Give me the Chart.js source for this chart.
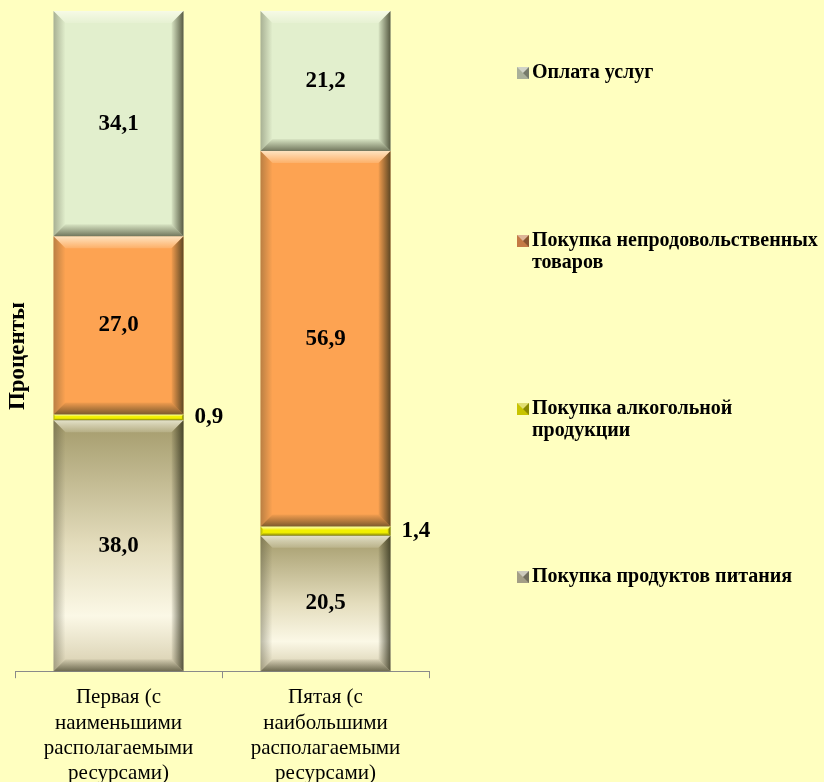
<!DOCTYPE html>
<html lang="ru">
<head>
<meta charset="utf-8">
<script src="https://cdn.jsdelivr.net/npm/chart.js@4"></script>
<style>
  html, body { margin: 0; padding: 0; background: #FFFFC0; overflow: hidden; }
  canvas { display: block; }
</style>
</head>
<body>
<canvas id="shareChart" width="824" height="793"></canvas>
<script>
// categories (x tick labels, one line per entry)
const groups = [
  ['Первая (с', 'наименьшими', 'располагаемыми', 'ресурсами)'],
  ['Пятая (с', 'наибольшими', 'располагаемыми', 'ресурсами)']
];
const seriesNames = [
  'Покупка продуктов питания',
  'Покупка алкогольной продукции',
  'Покупка непродовольственных товаров',
  'Оплата услуг'
];
const foodShare = [38.0, 20.5];
const alcoholShare = [0.9, 1.4];
const nonFoodShare = [27.0, 56.9];
const servicesShare = [34.1, 21.2];
const axisTitle = 'Проценты';

const SERIF = "'Liberation Serif', 'Times New Roman', serif";
const markerColors = ['#A39E86', '#C8C400', '#C47A44', '#A9B09A'];

/** gradient for the food segments, built from the y scale */
function foodFill(context) {
  const chart = context.chart;
  const y = chart.scales.y;
  if (!chart.chartArea || !y) return '#E8E0C0';
  const v = context.dataset.data[context.dataIndex];
  const top = y.getPixelForValue(v), bottom = y.getPixelForValue(0);
  const g = chart.ctx.createLinearGradient(0, top, 0, bottom);
  g.addColorStop(0, '#A39A6A');
  g.addColorStop(0.5, '#E4DDBD');
  g.addColorStop(0.78, '#FBF8E6');
  g.addColorStop(1, '#D6CDAD');
  return g;
}

/** draws the bevelled edges over each bar */
const bevelPlugin = {
  id: 'bevel',
  afterDatasetsDraw(chart) {
    const ctx = chart.ctx;
    chart.data.datasets.forEach((ds, di) => {
      chart.getDatasetMeta(di).data.forEach(bar => {
        const p = bar.getProps(['x', 'y', 'base', 'width'], true);
        const l = p.x - p.width / 2, r = p.x + p.width / 2;
        const t = Math.min(p.y, p.base), b = Math.max(p.y, p.base);
        const d = Math.min(12, (b - t) / 3);
        ctx.save();
        let g = ctx.createLinearGradient(0, t, 0, t + d);
        g.addColorStop(0, 'rgba(255,255,240,0.7)');
        g.addColorStop(1, 'rgba(255,255,240,0.15)');
        ctx.fillStyle = g;
        ctx.beginPath();
        ctx.moveTo(l, t); ctx.lineTo(r, t); ctx.lineTo(r - d, t + d); ctx.lineTo(l + d, t + d);
        ctx.closePath(); ctx.fill();
        g = ctx.createLinearGradient(l, 0, l + d, 0);
        g.addColorStop(0, 'rgba(60,60,40,0.35)');
        g.addColorStop(1, 'rgba(60,60,40,0.0)');
        ctx.fillStyle = g;
        ctx.beginPath();
        ctx.moveTo(l, t); ctx.lineTo(l + d, t + d); ctx.lineTo(l + d, b - d); ctx.lineTo(l, b);
        ctx.closePath(); ctx.fill();
        g = ctx.createLinearGradient(r, 0, r - d, 0);
        g.addColorStop(0, 'rgba(40,40,20,0.75)');
        g.addColorStop(1, 'rgba(40,40,20,0.05)');
        ctx.fillStyle = g;
        ctx.beginPath();
        ctx.moveTo(r, t); ctx.lineTo(r, b); ctx.lineTo(r - d, b - d); ctx.lineTo(r - d, t + d);
        ctx.closePath(); ctx.fill();
        g = ctx.createLinearGradient(0, b, 0, b - d);
        g.addColorStop(0, 'rgba(40,40,20,0.6)');
        g.addColorStop(1, 'rgba(40,40,20,0.05)');
        ctx.fillStyle = g;
        ctx.beginPath();
        ctx.moveTo(l, b); ctx.lineTo(r, b); ctx.lineTo(r - d, b - d); ctx.lineTo(l + d, b - d);
        ctx.closePath(); ctx.fill();
        ctx.restore();
      });
    });
  }
};

/** value labels: inside big segments, to the right of thin ones */
const valueLabels = {
  id: 'valueLabels',
  afterDatasetsDraw(chart) {
    const ctx = chart.ctx;
    ctx.save();
    ctx.font = 'bold 23px ' + SERIF;
    ctx.fillStyle = '#000';
    ctx.textBaseline = 'middle';
    chart.data.datasets.forEach((ds, di) => {
      chart.getDatasetMeta(di).data.forEach((bar, i) => {
        const v = ds.data[i];
        const p = bar.getProps(['x', 'y', 'base', 'width'], true);
        const txt = v.toFixed(1).replace('.', ',');
        const cy = (p.y + p.base) / 2;
        if (v < 5) {
          ctx.textAlign = 'left';
          ctx.fillText(txt, p.x + p.width / 2 + 11, cy);
        } else {
          ctx.textAlign = 'center';
          ctx.fillText(txt, p.x, cy);
        }
      });
    });
    ctx.restore();
  }
};

/** y title and the right-hand legend */
const sideText = {
  id: 'sideText',
  afterDraw(chart) {
    const ctx = chart.ctx;
    ctx.save();
    ctx.fillStyle = '#000';
    ctx.font = 'bold 23px ' + SERIF;
    ctx.textAlign = 'center';
    ctx.textBaseline = 'middle';
    ctx.translate(18, 356);
    ctx.rotate(-Math.PI / 2);
    ctx.fillText(axisTitle, 0, 0);
    ctx.restore();

    ctx.save();
    ctx.font = 'bold 20px ' + SERIF;
    ctx.textBaseline = 'middle';
    ctx.textAlign = 'left';
    const textX = 532, maxW = chart.width - textX - 1;
    const n = chart.data.datasets.length;
    for (let k = 0; k < n; k++) {
      const di = n - 1 - k;
      const words = chart.data.datasets[di].label.split(' ');
      const lines = [];
      let cur = '';
      words.forEach(w => {
        const test = cur ? cur + ' ' + w : w;
        if (ctx.measureText(test).width > maxW && cur) { lines.push(cur); cur = w; }
        else cur = test;
      });
      lines.push(cur);
      const y0 = 73 + k * 168;
      const c = markerColors[di];
      ctx.fillStyle = c;
      ctx.fillRect(517, y0 - 6, 12, 12);
      ctx.fillStyle = 'rgba(255,255,255,0.45)';
      ctx.beginPath();
      ctx.moveTo(517, y0 - 6); ctx.lineTo(529, y0 - 6); ctx.lineTo(523, y0);
      ctx.closePath(); ctx.fill();
      ctx.fillStyle = 'rgba(0,0,0,0.3)';
      ctx.beginPath();
      ctx.moveTo(529, y0 - 6); ctx.lineTo(529, y0 + 6); ctx.lineTo(523, y0);
      ctx.closePath(); ctx.fill();
      ctx.fillStyle = '#000';
      lines.forEach((ln, j) => ctx.fillText(ln, textX, y0 + j * 22));
    }
    ctx.restore();
  }
};

document.addEventListener("DOMContentLoaded", function () {
  const ctx = document.getElementById('shareChart').getContext('2d');
  new Chart(ctx, {
    type: 'bar',
    data: {
      labels: groups,
      datasets: [
        { label: seriesNames[0], data: foodShare, backgroundColor: foodFill },
        { label: seriesNames[1], data: alcoholShare, backgroundColor: '#F2F000' },
        { label: seriesNames[2], data: nonFoodShare, backgroundColor: '#FDA352' },
        { label: seriesNames[3], data: servicesShare, backgroundColor: '#E2EFCD' }
      ]
    },
    options: {
      responsive: false,
      animation: false,
      datasets: { bar: { barPercentage: 0.628, categoryPercentage: 1, borderWidth: 0 } },
      layout: { padding: { left: 15, right: 395, top: 11, bottom: 0 } },
      plugins: {
        legend: { display: false },
        tooltip: { enabled: false }
      },
      scales: {
        x: {
          stacked: true,
          grid: { offset: true, drawOnChartArea: false, drawTicks: true, tickLength: 7, color: '#8A8A8A' },
          border: { display: true, color: '#8A8A8A', width: 1 },
          ticks: {
            color: '#000',
            padding: 7,
            maxRotation: 0,
            autoSkip: false,
            font: { family: SERIF, size: 21, lineHeight: 1.2 }
          }
        },
        y: {
          stacked: true,
          display: false,
          min: 0,
          max: 100
        }
      }
    },
    plugins: [bevelPlugin, valueLabels, sideText]
  });
});
</script>
</body>
</html>
